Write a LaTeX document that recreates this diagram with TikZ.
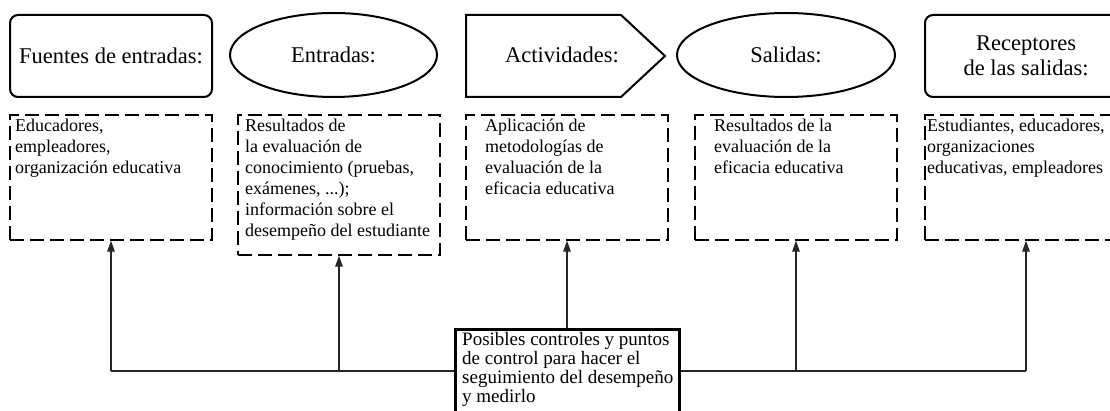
\documentclass[tikz,border=0pt]{standalone}
\usepackage{fontspec}
\setmainfont{Liberation Serif}
\usetikzlibrary{shapes.geometric,arrows.meta}
\begin{document}
\begin{tikzpicture}[x=1pt,y=-1pt,
  title/.style={draw, line width=2pt, font=\fontsize{22.5}{25}\selectfont, align=center, inner sep=0pt},
  rbox/.style={title, rounded corners=8pt, minimum width=202pt, minimum height=82pt},
  ell/.style={title, ellipse, minimum height=84pt},
  dbox/.style={draw, dash pattern=on 14pt off 6pt, line width=1.3pt, minimum width=202pt, inner sep=0pt},
  dtext/.style={anchor=north west, align=left, inner sep=0pt, font=\fontsize{18}{21}\selectfont},
  ctext/.style={anchor=north west, align=left, inner sep=0pt, font=\fontsize{19}{19}\selectfont},
  conn/.style={line width=1.2pt, draw=black!85},
  arr/.style={conn, -{Triangle[length=11pt,width=7.5pt]}},
  ctlbox/.style={draw, line width=3pt, minimum width=224pt, minimum height=85pt, inner sep=0pt}
]
\useasboundingbox (0,0) rectangle (1110,411);
\clip (0,0) rectangle (1110,411);

% top row
\node[rbox] (fu) at (111,56) {Fuentes de entradas:};
\node[ell, minimum width=207pt] (en) at (333.5,55) {Entradas:};
\draw[line width=2pt, line join=miter] (466,15) -- (621,15) -- (665,56) -- (621,97) -- (466,97) -- cycle;
\node[font=\fontsize{22.5}{25}\selectfont, inner sep=0pt] (ac) at (562,55) {Actividades:};
\node[ell, minimum width=218pt] (sa) at (786,55) {Salidas:};
\node[rbox] (re) at (1026,56) {Receptores\\de las salidas:};

% dashed boxes
\node[dbox, minimum height=125pt] (b1) at (111,177.5) {};
\node[dbox, minimum height=140pt] (b2) at (339,185) {};
\node[dbox, minimum height=125pt] (b3) at (567,177.5) {};
\node[dbox, minimum height=125pt] (b4) at (796,177.5) {};
\node[dbox, minimum height=125pt] (b5) at (1026,177.5) {};

\node[dtext] (t1) at (15,119) {Educadores,\\empleadores,\\organización educativa};
\node[dtext] (t2) at (245,119) {Resultados de\\la evaluación de\\conocimiento (pruebas,\\exámenes, ...);\\información sobre el\\desempeño del estudiante};
\node[dtext] (t3) at (485,119) {Aplicación de\\metodologías de\\evaluación de la\\eficacia educativa};
\node[dtext] (t4) at (714,119) {Resultados de la\\evaluación de la\\eficacia educativa};
\node[dtext] (t5) at (927,119) {Estudiantes, educadores,\\organizaciones\\educativas, empleadores};

% control box
\node[ctlbox] (ctl) at (567,371.5) {};
\node[ctext] (ct) at (462,332) {Posibles controles y puntos\\de control para hacer el\\seguimiento del desempeño\\y medirlo};

\coordinate (hl) at (567,371);
\draw[conn] (b1.south |- hl) -- (ctl.west |- hl);
\draw[conn] (ctl.east |- hl) -- (b5.south |- hl);
\draw[arr] (b1.south |- hl) -- (b1.south);
\draw[arr] (b2.south |- hl) -- (b2.south);
\draw[arr] (ctl.north) -- (b3.south);
\draw[arr] (b4.south |- hl) -- (b4.south);
\draw[arr] (b5.south |- hl) -- (b5.south);
\end{tikzpicture}
\end{document}
